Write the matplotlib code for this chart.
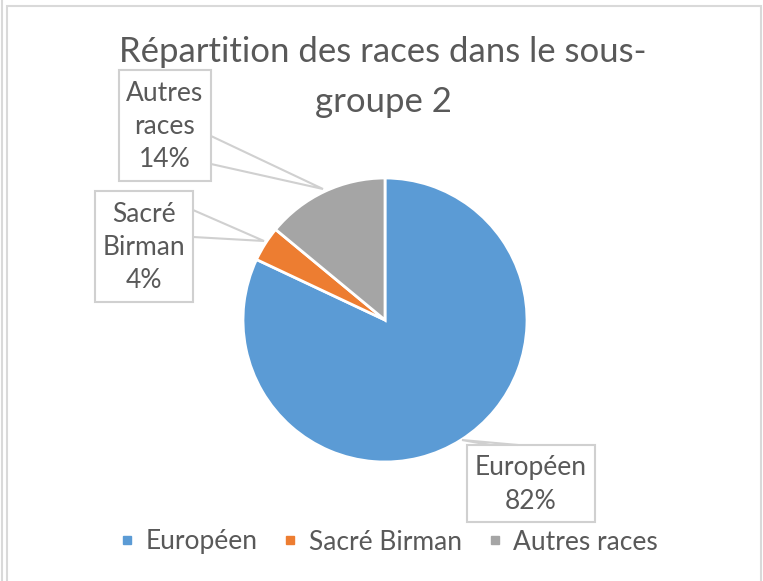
import matplotlib.pyplot as plt
from matplotlib.lines import Line2D
from matplotlib.patches import Polygon, Rectangle

races = ['Européen', 'Sacré Birman', 'Autres races']
parts = [82, 4, 14]
colors = ['#5B9BD5', '#ED7D31', '#A5A5A5']
title_lines = ['Répartition des races dans le sous-', 'groupe 2']

W, H = 763, 581
text_color = '#595959'
line_color = '#D0D0D0'
plt.rcParams['font.family'] = ['Lato', 'DejaVu Sans']

fig = plt.figure(figsize=(W / 100, H / 100), dpi=100)
ax = fig.add_axes([0, 0, 1, 1])


def Y(y):
    # screen-style y (from top) to axis y
    return H - y


cx, cy, r = 385, Y(320), 142
wedges, _ = ax.pie(parts, colors=colors, startangle=90, counterclock=False,
                   center=(cx, cy), radius=r, frame=True,
                   wedgeprops=dict(edgecolor='white', linewidth=2))
ax.set_xlim(0, W)
ax.set_ylim(0, H)
ax.set_aspect('equal')
ax.axis('off')

# chart frame
ax.add_patch(Rectangle((7, Y(600)), 754, 594, fill=False, ec='#D9D9D9', lw=1.5))
ax.plot([2, 2], [0, H], color='#D9D9D9', lw=1.5)

# title, one text per line
for i, line in enumerate(title_lines):
    ax.text(383, Y(52 + 50 * i), line, ha='center', va='center', fontsize=25,
            color=text_color)


def callout(box, tip, base, lines):
    x0, y0, x1, y1 = box
    ax.add_patch(Rectangle((x0, Y(y1)), x1 - x0, y1 - y0, fc='white',
                           ec=line_color, lw=1.5, zorder=4))
    (bx0, by0), (bx1, by1) = base
    ax.add_patch(Polygon([(bx0, Y(by0)), (tip[0], Y(tip[1])), (bx1, Y(by1))],
                         closed=False, fill=False, ec=line_color, lw=1.5, zorder=4))
    ax.text((x0 + x1) / 2, Y((y0 + y1) / 2 + 1), lines, ha='center', va='center',
            fontsize=19, color=text_color, linespacing=1.42, zorder=5)


pct = ['{}%'.format(p) for p in parts]
callout((467, 445, 595, 522), (462, 440), ((490, 445), (518, 445)),
        'Européen\n' + pct[0])
callout((95, 191, 193, 302), (264, 241), ((193, 210), (193, 237)),
        'Sacré\nBirman\n' + pct[1])
callout((119, 70, 211, 181), (323, 189), ((211, 136), (211, 164)),
        'Autres\nraces\n' + pct[2])

handles = [Line2D([], [], marker='s', color=c, linestyle='none', markersize=6)
           for c in colors]
ax.legend(handles, races, loc='center', bbox_to_anchor=(389 / W, 1 - 542 / H),
          ncol=3, frameon=False, fontsize=19, labelcolor=text_color,
          handlelength=0.5, handletextpad=0.45, columnspacing=1.0)

fig.savefig('out.png', dpi=100)
